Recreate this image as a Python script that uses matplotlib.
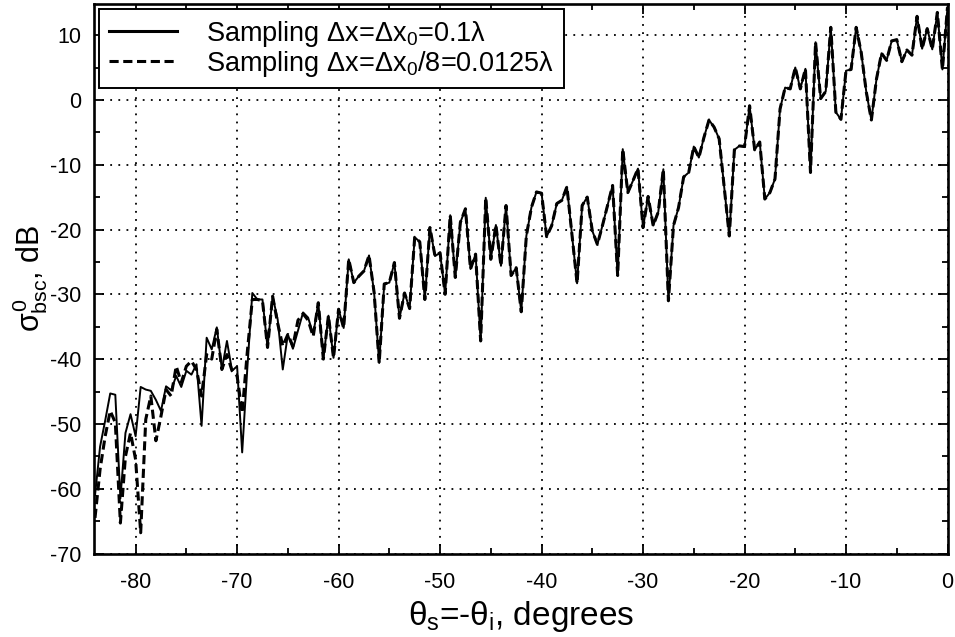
import numpy as np
import matplotlib
matplotlib.use("Agg")
import matplotlib.pyplot as plt
from matplotlib.ticker import MultipleLocator

plt.rcParams['font.family'] = ['Liberation Sans', 'DejaVu Sans']
plt.rcParams['mathtext.fontset'] = 'custom'
plt.rcParams['mathtext.rm'] = 'Liberation Sans'
plt.rcParams['mathtext.it'] = 'Liberation Sans'
plt.rcParams['mathtext.bf'] = 'Liberation Sans:bold'
plt.rcParams['axes.unicode_minus'] = False

# scattering angle grid, degrees
theta_s = np.arange(-84.0, 0.25, 0.5)

# backscatter, dB, grazing part (-84 .. -60.5): coarse sampling dx = 0.1 lambda
head_coarse = [
    -61.0, -53.5, -49.5, -45.3, -45.5, -61.5, -51.4, -48.5,
    -51.9, -44.3, -44.7, -44.9, -46.3, -48.0, -44.2, -44.8,
    -42.6, -44.3, -41.8, -42.4, -40.8, -50.3, -36.7, -38.5,
    -35.1, -41.6, -37.2, -41.8, -41.1, -54.4, -41.6, -29.8,
    -30.8, -30.8, -38.2, -30.3, -33.9, -41.6, -36.2, -38.4,
    -35.6, -32.8, -33.6, -36.2, -31.3, -40.0, -33.3, -39.8,
]

# same angles, fine sampling dx = dx0/8 = 0.0125 lambda
head_fine = [
    -64.5, -57.0, -51.9, -48.0, -49.8, -65.3, -55.0, -51.4,
    -55.5, -66.8, -49.3, -45.7, -52.6, -48.8, -44.7, -45.7,
    -41.1, -43.6, -41.1, -40.3, -41.6, -45.7, -39.3, -40.0,
    -35.4, -41.6, -39.3, -41.8, -42.6, -48.3, -39.0, -30.8,
    -30.8, -31.0, -38.2, -30.3, -34.5, -38.0, -36.2, -38.0,
    -34.0, -33.0, -34.0, -36.5, -31.3, -40.0, -33.3, -39.8,
]

# -60 .. 0 degrees, where both samplings give the same result
tail_db = [
    -32.3, -35.2, -24.6, -28.2, -27.2, -26.4, -24.0, -29.7, -40.6, -28.4,
    -28.2, -25.1, -33.7, -29.8, -32.2, -21.2, -21.9, -30.8, -19.7, -24.1,
    -23.6, -30.0, -17.8, -27.4, -18.9, -16.8, -26.1, -23.8, -37.2, -15.1,
    -24.6, -19.3, -25.6, -16.3, -27.1, -25.9, -32.7, -21.0, -16.6, -14.2,
    -14.4, -21.1, -19.4, -16.0, -15.5, -13.4, -20.9, -28.3, -16.3, -15.0,
    -20.2, -22.3, -19.4, -16.3, -13.2, -27.1, -7.6, -14.3, -12.5, -10.6,
    -19.7, -14.9, -19.4, -17.3, -10.7, -31.0, -19.4, -16.6, -11.9, -11.2,
    -7.2, -8.9, -5.8, -3.1, -4.2, -6.0, -13.5, -21.0, -7.7, -7.1,
    -7.2, -0.9, -7.7, -6.5, -15.3, -14.3, -12.2, -1.4, 1.9, 1.7,
    5.0, 1.7, 4.8, -11.2, 8.9, 0.2, 1.3, 11.2, -1.9, -3.0,
    4.5, 4.7, 11.2, 7.3, 1.2, -3.1, 3.2, 7.2, 6.1, 9.1,
    9.3, 5.9, 7.7, 6.9, 12.9, 7.9, 11.0, 7.8, 13.5, 4.7,
    14.3,
]

sigma_coarse = np.array(head_coarse + tail_db)
sigma_fine = np.array(head_fine + tail_db)

labels = [r'Sampling $\Delta$x=$\Delta$x$_0$=0.1$\lambda$',
          r'Sampling $\Delta$x=$\Delta$x$_0$/8=0.0125$\lambda$']
x_ticks = [-80, -70, -60, -50, -40, -30, -20, -10, 0]
y_ticks = [-70, -60, -50, -40, -30, -20, -10, 0, 10]

fig = plt.figure(figsize=(9.55, 6.37), dpi=100)
ax = fig.add_axes([94 / 955, 1 - 553.5 / 637, (947.5 - 94) / 955, (553.5 - 4) / 637])

ax.plot(theta_s, sigma_coarse, color='black', lw=1.4, label=labels[0], zorder=3)
ax.plot(theta_s, sigma_fine, color='black', lw=2.2, ls=(0, (3.0, 1.5)),
        label=labels[1], zorder=3)

ax.set_xlim(-84.1, 0)
ax.set_ylim(-70, 14.8)
ax.set_xticks(x_ticks)
ax.set_yticks(y_ticks)
ax.xaxis.set_minor_locator(MultipleLocator(5))
ax.yaxis.set_minor_locator(MultipleLocator(5))
ax.tick_params(which='both', direction='in', top=True, right=True, width=1.3,
               labelsize=15.5, color='black')
ax.tick_params(which='major', length=7)
ax.tick_params(which='minor', length=4)
ax.tick_params(axis='x', pad=13)
ax.tick_params(axis='y', pad=9)

ax.grid(True, which='major', color='black', lw=1.3, ls=(0, (1, 3.5)), zorder=1)
for sp in ax.spines.values():
    sp.set_linewidth(1.9)

ax.set_xlabel(r'$\theta_s$=-$\theta_i$, degrees', fontsize=24, labelpad=5)
ax.set_ylabel(r'$\sigma^0_{bsc}$, dB', fontsize=22, labelpad=0)

leg = ax.legend(loc='upper left', fontsize=19.5, frameon=True, fancybox=False,
                edgecolor='black', framealpha=1, borderaxespad=0.2,
                handlelength=2.5, handletextpad=1.1, labelspacing=0.0,
                borderpad=0.35)
leg.get_frame().set_linewidth(1.4)
for line in leg.get_lines():
    line.set_linewidth(2.2)

fig.savefig('out.png', dpi=100)
